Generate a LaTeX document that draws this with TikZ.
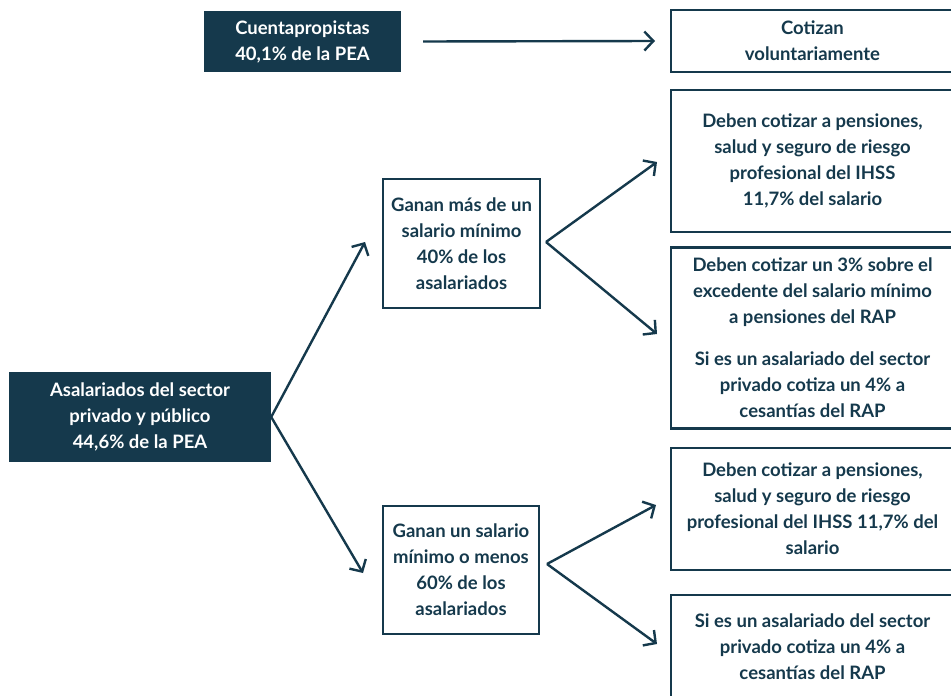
\documentclass[tikz,border=0pt]{standalone}
\usepackage{fontspec}
\setmainfont{Lato}
\usetikzlibrary{arrows.meta}
\definecolor{navy}{RGB}{21,57,76}
\begin{document}
\begin{tikzpicture}[x=1pt,y=-1pt,
  base/.style={rectangle,inner sep=0pt,align=center,font=\fontsize{18.5}{26}\selectfont\bfseries},
  darkbox/.style={base,fill=navy,text=white},
  whitebox/.style={base,draw=navy,line width=2.6pt,text=navy,fill=white},
  conn/.style={draw=navy,line width=2.4pt,-{Straight Barb[length=9pt,width=19pt,line width=2.4pt]}}
]
\useasboundingbox (0,0) rectangle (951,696);
\fill[white] (0,0) rectangle (951,696);

\node[darkbox,minimum width=197pt,minimum height=61pt] (cuenta) at (302.5,41.5) {Cuentapropistas\\40,1\% de la PEA};
\node[whitebox,minimum width=283pt,minimum height=62pt] (cotizan) at (812.5,41) {Cotizan\\voluntariamente};
\node[whitebox,minimum width=283pt,minimum height=142pt] (deben1) at (812.5,161) {Deben cotizar a pensiones,\\salud y seguro de riesgo\\profesional del IHSS\\11,7\% del salario};
\node[whitebox,minimum width=283pt,minimum height=181pt] (deben2) at (812.5,338) {Deben cotizar un 3\% sobre el\\excedente del salario mínimo\\a pensiones del RAP\\[16pt]Si es un asalariado del sector\\privado cotiza un 4\% a\\cesantías del RAP};
\node[darkbox,minimum width=262pt,minimum height=90pt] (asal) at (140,417) {Asalariados del sector\\privado y público\\44,6\% de la PEA};
\node[whitebox,minimum width=157pt,minimum height=129pt] (mas) at (461.5,243.5) {Ganan más de un\\salario mínimo\\40\% de los\\asalariados};
\node[whitebox,minimum width=156pt,minimum height=128pt] (menos) at (461,570) {Ganan un salario\\mínimo o menos\\60\% de los\\asalariados};
\node[whitebox,minimum width=283pt,minimum height=122pt] (deben3) at (812.5,509) {Deben cotizar a pensiones,\\salud y seguro de riesgo\\profesional del IHSS 11,7\% del\\salario};
\node[whitebox,minimum width=283pt,minimum height=103pt] (si) at (812.5,646.5) {Si es un asalariado del sector\\privado cotiza un 4\% a\\cesantías del RAP};

\coordinate (c1) at (655,41);
\coordinate (a1) at (365,242);
\coordinate (a2) at (363,573);
\coordinate (m0) at (546,242);
\coordinate (m1) at (657,162);
\coordinate (m2) at (657,334);
\coordinate (n0) at (547,564);
\coordinate (n1) at (656,505);
\coordinate (n2) at (657,644);

\draw[conn] ([xshift=22pt]cuenta.east) -- (c1);
\draw[conn] (asal.east) -- (a1);
\draw[conn] (asal.east) -- (a2);
\draw[conn] (m0) -- (m1);
\draw[conn] (m0) -- (m2);
\draw[conn] (n0) -- (n1);
\draw[conn] (n0) -- (n2);
\end{tikzpicture}
\end{document}
